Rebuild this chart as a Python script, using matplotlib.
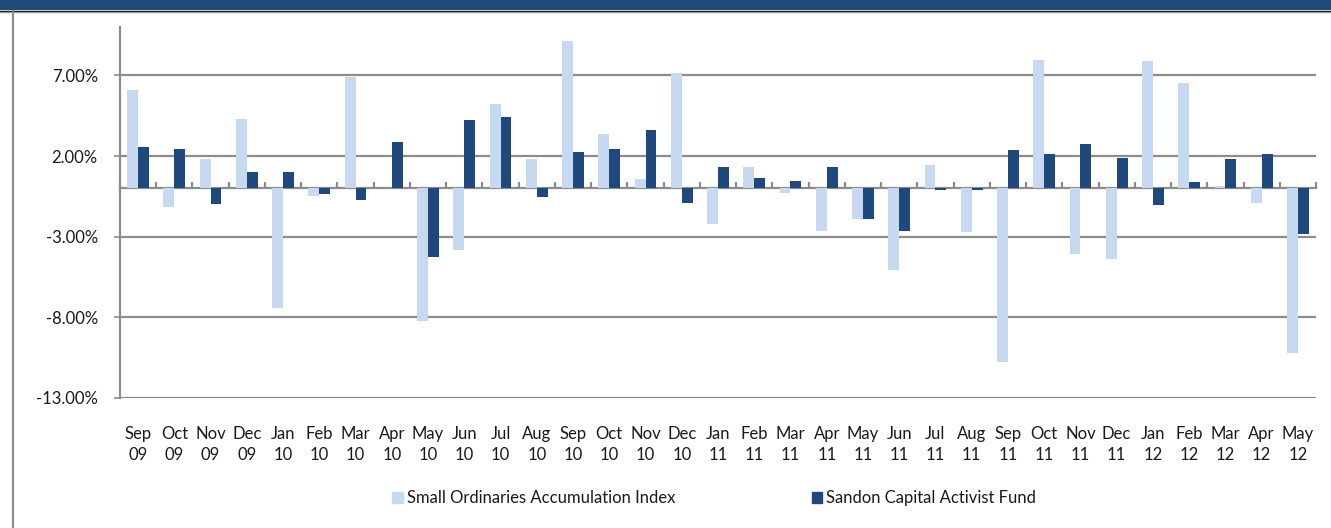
import matplotlib
matplotlib.use("Agg")
import matplotlib.pyplot as plt
import numpy as np
from matplotlib.patches import Rectangle, Patch
from matplotlib.lines import Line2D
from matplotlib.ticker import FuncFormatter

plt.rcParams["font.family"] = ["Lato", "DejaVu Sans"]

months = ["Sep\n09", "Oct\n09", "Nov\n09", "Dec\n09", "Jan\n10", "Feb\n10", "Mar\n10",
          "Apr\n10", "May\n10", "Jun\n10", "Jul\n10", "Aug\n10", "Sep\n10", "Oct\n10",
          "Nov\n10", "Dec\n10", "Jan\n11", "Feb\n11", "Mar\n11", "Apr\n11", "May\n11",
          "Jun\n11", "Jul\n11", "Aug\n11", "Sep\n11", "Oct\n11", "Nov\n11", "Dec\n11",
          "Jan\n12", "Feb\n12", "Mar\n12", "Apr\n12", "May\n12"]

small_ords = [6.07, -1.17, 1.79, 4.27, -7.44, -0.49, 6.88, 0.0, -8.21, -3.80,
              5.20, 1.79, 9.11, 3.34, 0.55, 7.13, -2.23, 1.29, -0.30, -2.66,
              -1.92, -5.08, 1.42, -2.72, -10.79, 7.93, -4.09, -4.40, 7.87, 6.51,
              0.17, -0.92, -10.24]

sandon = [2.53, 2.41, -1.00, 0.98, 0.98, -0.38, -0.70, 2.90, -4.28, 4.21,
          4.39, -0.55, 2.28, 2.41, 3.59, -0.92, 1.29, 0.61, 0.48, 1.35,
          -1.92, -2.66, -0.10, -0.10, 2.35, 2.10, 2.72, 1.85, -1.05, 0.42,
          1.79, 2.10, -2.85]

LIGHT = "#C6D9F1"
DARK = "#1F497D"
GRID = "#8C8C8C"
TXT = "#1a1a1a"
FS = 12.0

W, H = 1331, 528
fig = plt.figure(figsize=(W / 100, H / 100), dpi=100)
ax = fig.add_axes([120 / W, 1 - 398 / H, (1316 - 120) / W, (398 - 27) / H])

x = np.arange(len(months))
bw = 0.30
ax.bar(x - bw / 2, small_ords, bw, color=LIGHT, zorder=3)
ax.bar(x + bw / 2, sandon, bw, color=DARK, zorder=3)

ymin, ymax = -13, 10
ax.set_ylim(ymin, ymax)
ax.set_xlim(-0.5, len(months) - 0.5)
ax.set_yticks([-13, -8, -3, 2, 7])
ax.yaxis.set_major_formatter(FuncFormatter(lambda v, p: f"{v:.2f}%"))
ax.grid(axis="y", color=GRID, lw=1.6, zorder=1)
ax.set_axisbelow(True)

ax.set_xticks(x, months)
ax.tick_params(axis="x", length=0, pad=20.5, labelsize=FS, colors=TXT)
ax.tick_params(axis="y", length=4, width=1.2, color=GRID, pad=12,
               labelsize=FS, labelcolor=TXT)
for lab in ax.get_xticklabels():
    lab.set_linespacing(1.35)

for s in ["top", "right", "bottom"]:
    ax.spines[s].set_visible(False)
ax.spines["left"].set_color(GRID)
ax.spines["left"].set_linewidth(1.6)

# zero line with category boundary ticks
zero = ax.secondary_xaxis((0 - ymin) / (ymax - ymin))
zero.set_xticks(np.arange(len(months) + 1) - 0.5)
zero.set_xticklabels([])
zero.tick_params(length=4, width=1.6, color=GRID, direction="out")
for sp in zero.spines.values():
    sp.set_color(GRID)
    sp.set_linewidth(1.6)

# frame: banner and border lines
fig.add_artist(Rectangle((0, 1 - 10 / H), 1, 10 / H, transform=fig.transFigure,
                         color="#1F4A7C", lw=0))
fig.add_artist(Line2D([0, 1], [1 - 10.5 / H, 1 - 10.5 / H], transform=fig.transFigure,
                      color="black", lw=1.0))
fig.add_artist(Line2D([0, 1], [1 - 11.5 / H, 1 - 11.5 / H], transform=fig.transFigure,
                      color="#9a9a9a", lw=1.0))
fig.add_artist(Line2D([13 / W, 13 / W], [0, 1 - 11 / H], transform=fig.transFigure,
                      color="#8a8a8a", lw=1.5))

handles = [Patch(color=LIGHT, label="Small Ordinaries Accumulation Index"),
           Patch(color=DARK, label="Sandon Capital Activist Fund")]
fig.legend(handles=handles, loc="center", bbox_to_anchor=(714 / W, 1 - 498 / H),
           ncol=2, frameon=False, fontsize=FS, handlelength=0.65, handleheight=0.65,
           handletextpad=0.2, columnspacing=8.2, labelcolor=TXT)

fig.savefig("out.png", dpi=100)
